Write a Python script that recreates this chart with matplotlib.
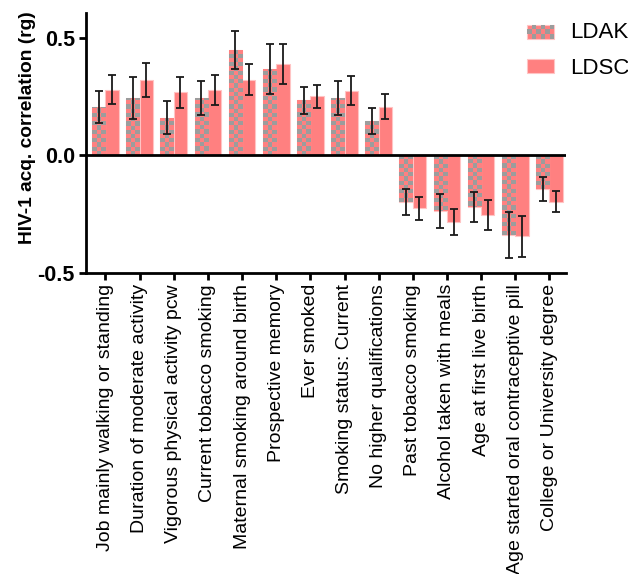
import matplotlib
matplotlib.use("Agg")
import matplotlib.pyplot as plt
import numpy as np
from matplotlib.legend_handler import HandlerBase
from matplotlib.patches import Rectangle

plt.rcParams["font.family"] = ["Liberation Sans", "DejaVu Sans"]

traits = [
    "Job mainly walking or standing",
    "Duration of moderate activity",
    "Vigorous physical activity pcw",
    "Current tobacco smoking",
    "Maternal smoking around birth",
    "Prospective memory",
    "Ever smoked",
    "Smoking status: Current",
    "No higher qualifications",
    "Past tobacco smoking",
    "Alcohol taken with meals",
    "Age at first live birth",
    "Age started oral contraceptive pill",
    "College or University degree",
]
ldak     = [0.206, 0.246, 0.161, 0.243, 0.449, 0.368, 0.235, 0.245, 0.147,
            -0.197, -0.235, -0.220, -0.340, -0.142]
ldak_err = [0.067, 0.089, 0.070, 0.072, 0.082, 0.106, 0.057, 0.072, 0.055,
            0.056, 0.073, 0.065, 0.098, 0.050]
ldsc     = [0.279, 0.320, 0.268, 0.277, 0.323, 0.389, 0.252, 0.276, 0.208,
            -0.225, -0.283, -0.254, -0.344, -0.197]
ldsc_err = [0.062, 0.073, 0.065, 0.064, 0.065, 0.087, 0.049, 0.063, 0.052,
            0.050, 0.056, 0.064, 0.086, 0.045]

PINK = "#ff8080"
GREY = "#9c9c9c"
EDGE = "#ffc4c4"
CHECK = 4.2  # checker square size in pixels
YLIM = (-0.5, 0.605)
XLIM = (-0.57, 13.5)


def checker(nr, nc):
    return (np.indices((nr, nc)).sum(axis=0) % 2).astype(float)


class CheckerHandler(HandlerBase):
    def create_artists(self, legend, orig, xd, yd, w, h, fs, trans):
        arts = [Rectangle((xd, yd), w, h, facecolor=PINK, edgecolor=EDGE,
                          lw=0.8, transform=trans)]
        nc, nr = 6, 3
        for i in range(nr):
            for j in range(nc):
                if (i + j) % 2:
                    arts.append(Rectangle((xd + j * w / nc, yd + i * h / nr), w / nc, h / nr,
                                          facecolor=GREY, edgecolor="none", transform=trans))
        return arts


fig = plt.figure(figsize=(6.28, 5.74), dpi=100)
ax = fig.add_axes([0.137, 0.5244, 0.765, 0.4526])

x = np.arange(len(traits))
w = 0.39
b1 = ax.bar(x - w / 2, ldak, w, color=PINK, edgecolor=EDGE, linewidth=0.8, zorder=2,
            label="LDAK")
b2 = ax.bar(x + w / 2, ldsc, w, color=PINK, edgecolor=EDGE, linewidth=0.8, zorder=2,
            label="LDSC")
ax.errorbar(x - w / 2, ldak, yerr=ldak_err, fmt="none", ecolor="#1a1a1a",
            elinewidth=1.3, capsize=3, capthick=1.3, zorder=4)
ax.errorbar(x + w / 2, ldsc, yerr=ldsc_err, fmt="none", ecolor="#1a1a1a",
            elinewidth=1.3, capsize=3, capthick=1.3, zorder=4)

# checker texture on the LDAK bars
ppu_y = ax.bbox.height / (YLIM[1] - YLIM[0])
ppu_x = ax.bbox.width / (XLIM[1] - XLIM[0])
cmap = matplotlib.colors.ListedColormap([PINK, GREY])
for bar in b1:
    bx, by = bar.get_x(), bar.get_y()
    bw, bh = bar.get_width(), bar.get_height()
    y0, y1 = min(by, by + bh), max(by, by + bh)
    nc = max(1, int(round(bw * ppu_x / CHECK)))
    nr = max(1, int(np.ceil((y1 - y0) * ppu_y / CHECK)))
    span = nr * CHECK / ppu_y
    ext_y0 = y1 - span if bh < 0 else y0
    im = ax.imshow(checker(nr, nc), cmap=cmap, vmin=0, vmax=1, aspect="auto",
                   interpolation="nearest", origin="lower",
                   extent=(bx, bx + bw, ext_y0, ext_y0 + span), zorder=3)
    im.set_clip_path(bar)
ax.set_xlim(*XLIM)
ax.set_ylim(*YLIM)

ax.axhline(0, color="black", lw=2, zorder=5)

for s in ["top", "right"]:
    ax.spines[s].set_visible(False)
for s in ["left", "bottom"]:
    ax.spines[s].set_linewidth(2)

ax.set_yticks([-0.5, 0.0, 0.5])
ax.set_yticklabels(["-0.5", "0.0", "0.5"], fontsize=15.5, fontweight="bold")
ax.set_xticks(x)
ax.set_xticklabels(traits, rotation=90, fontsize=14)
ax.tick_params(axis="both", width=2, length=5, direction="out", pad=3)
ax.set_ylabel("HIV-1 acq. correlation (rg)", fontsize=13.8, fontweight="bold")
ax.yaxis.set_label_coords(-0.104, 0.56)

leg = fig.legend(handles=[b1, b2], labels=["LDAK", "LDSC"], loc="upper left",
                 bbox_to_anchor=(527 / 628, 1 - 22 / 574), frameon=False, fontsize=16,
                 handler_map={b1: CheckerHandler()}, handlelength=1.22, handleheight=0.6,
                 labelspacing=0.68, handletextpad=0.72, borderpad=0, borderaxespad=0)

fig.savefig("out.png", dpi=100)
